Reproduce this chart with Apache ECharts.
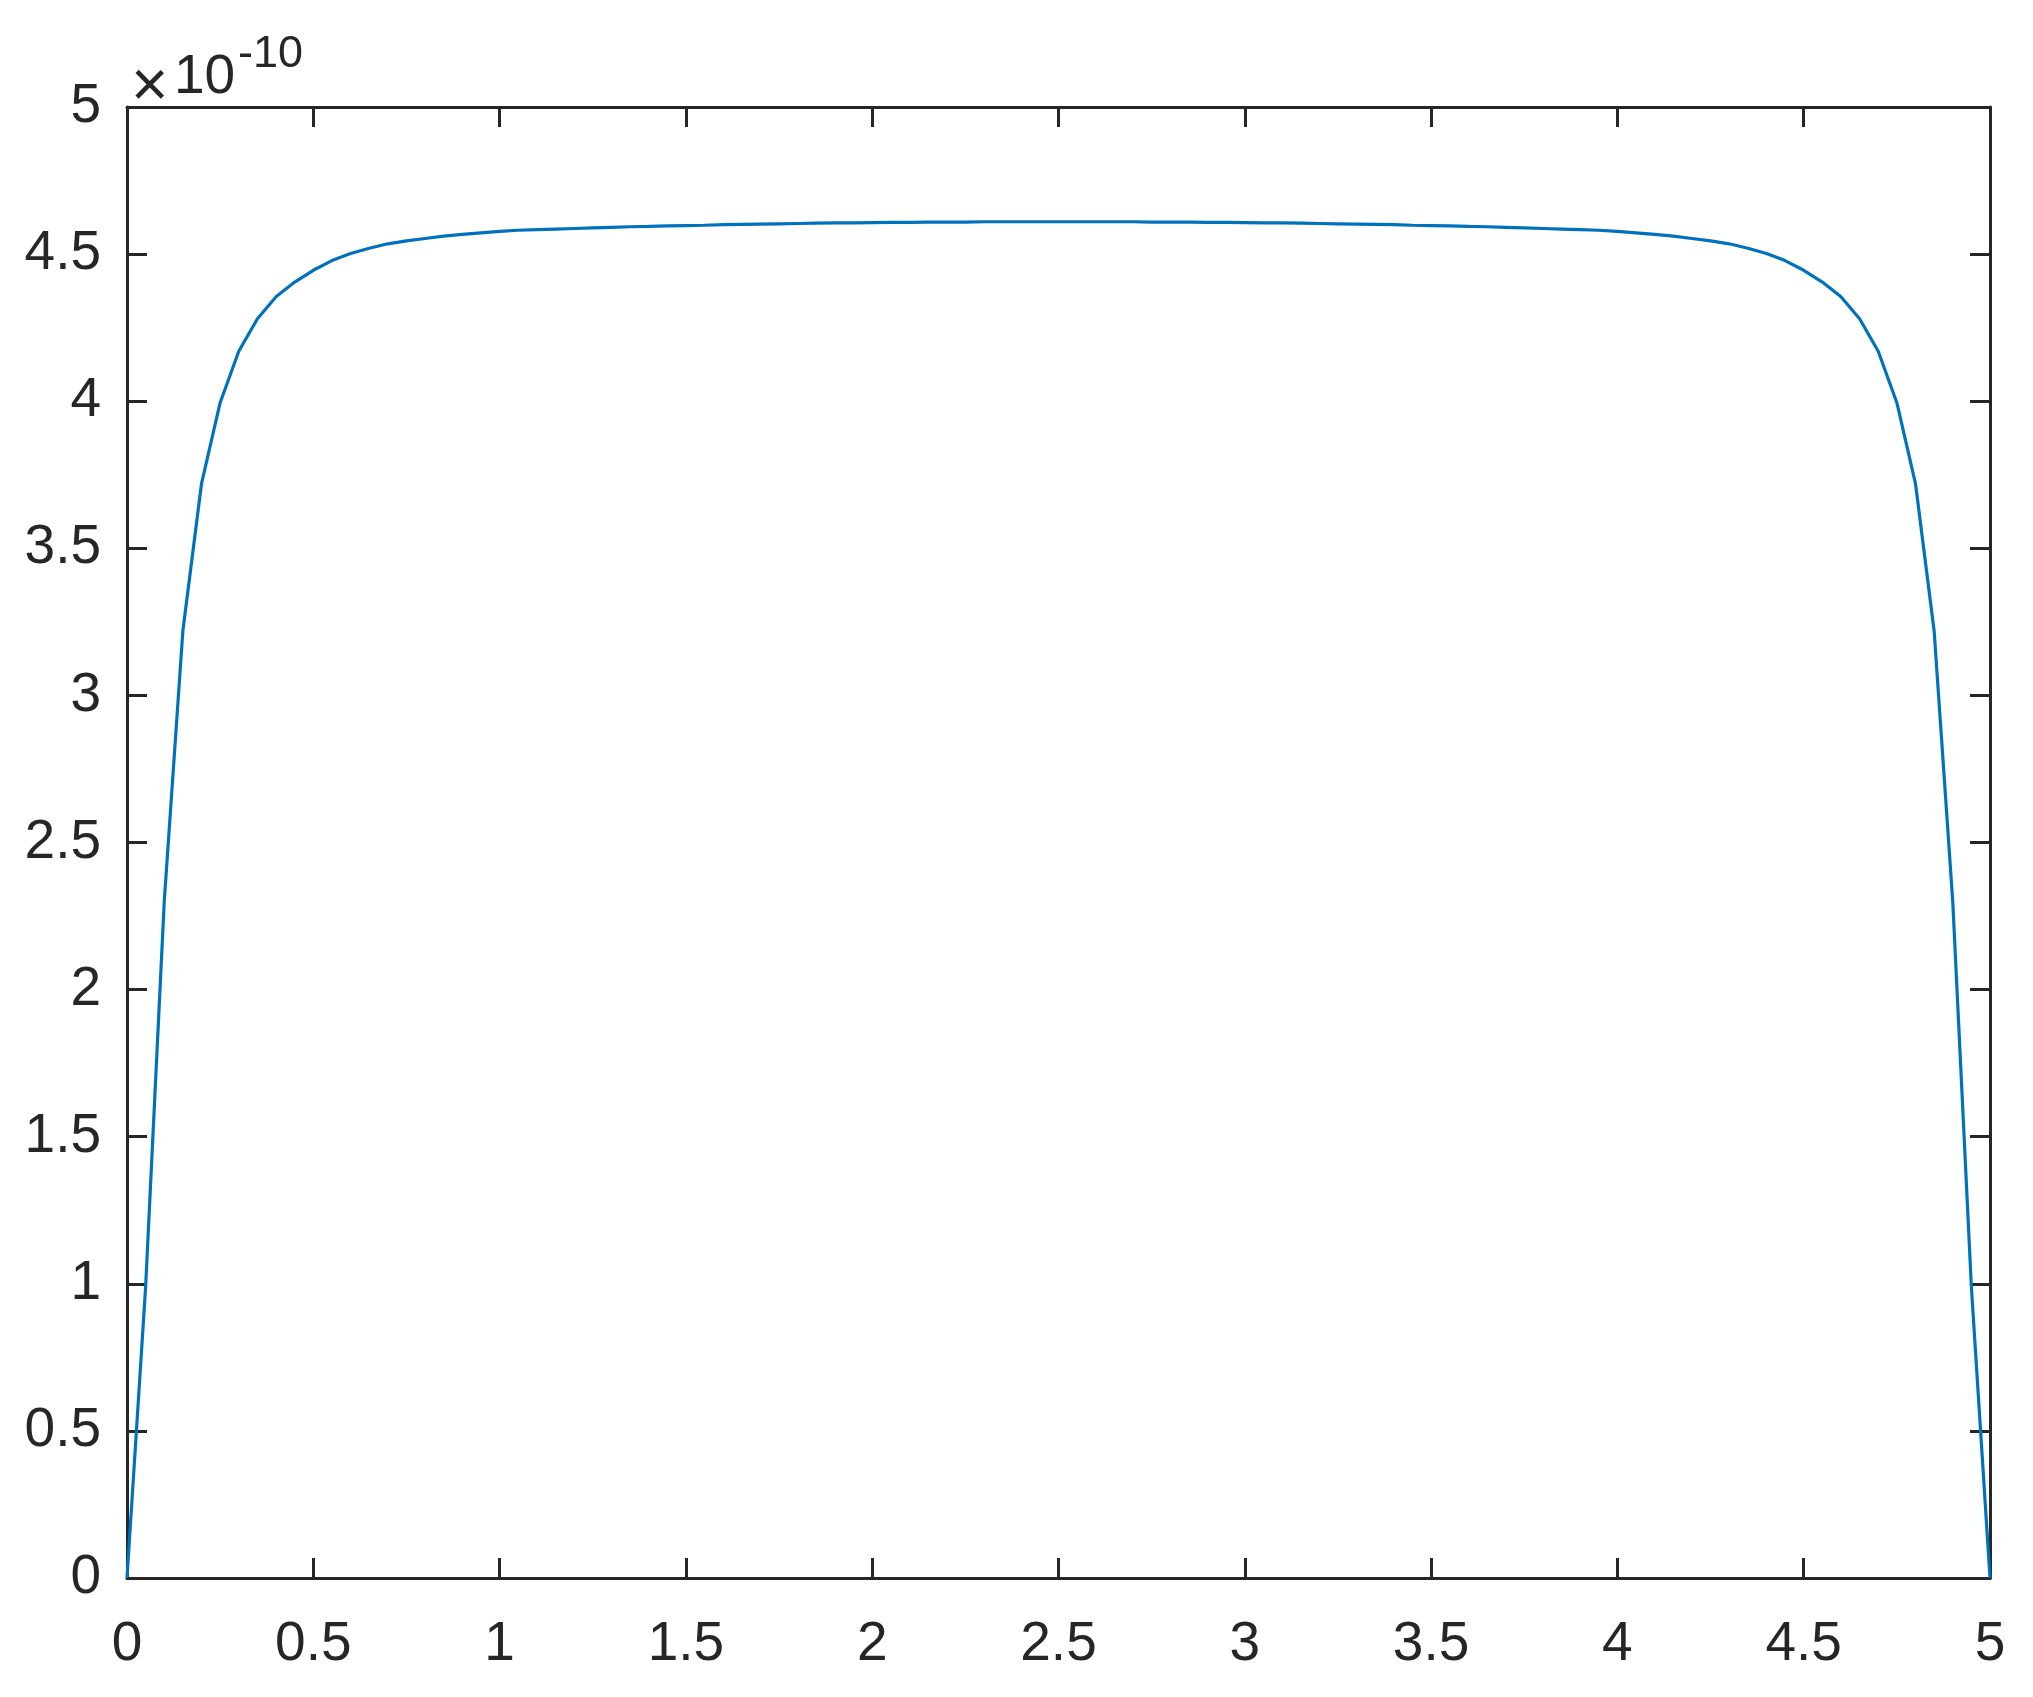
<!DOCTYPE html>
<html>
<head>
<meta charset="utf-8">
<script src="https://cdn.jsdelivr.net/npm/echarts@6/dist/echarts.min.js"></script>
<style>
html,body{margin:0;padding:0;background:#fff;}
#chart{width:2033px;height:1697px;}
</style>
</head>
<body>
<div id="chart"></div>
<script>
// x positions (0 to 5, step 0.05)
var xValues = [
  0.00,0.05,0.10,0.15,0.20,0.25,0.30,0.35,0.40,0.45,
  0.50,0.55,0.60,0.65,0.70,0.75,0.80,0.85,0.90,0.95,
  1.00,1.05,1.10,1.15,1.20,1.25,1.30,1.35,1.40,1.45,
  1.50,1.55,1.60,1.65,1.70,1.75,1.80,1.85,1.90,1.95,
  2.00,2.05,2.10,2.15,2.20,2.25,2.30,2.35,2.40,2.45,
  2.50,
  2.55,2.60,2.65,2.70,2.75,2.80,2.85,2.90,2.95,
  3.00,3.05,3.10,3.15,3.20,3.25,3.30,3.35,3.40,3.45,
  3.50,3.55,3.60,3.65,3.70,3.75,3.80,3.85,3.90,3.95,
  4.00,4.05,4.10,4.15,4.20,4.25,4.30,4.35,4.40,4.45,
  4.50,4.55,4.60,4.65,4.70,4.75,4.80,4.85,4.90,4.95,
  5.00
];
// y values in units of 1e-10
var yValues = [
  0.000,0.990,2.300,3.220,3.720,3.995,4.170,4.280,4.355,4.405,
  4.445,4.478,4.502,4.520,4.535,4.545,4.553,4.561,4.567,4.572,
  4.577,4.581,4.583,4.585,4.587,4.589,4.591,4.593,4.594,4.596,
  4.597,4.598,4.600,4.601,4.602,4.603,4.604,4.605,4.606,4.606,
  4.607,4.608,4.608,4.609,4.609,4.609,4.610,4.610,4.610,4.610,
  4.610,
  4.610,4.610,4.610,4.610,4.609,4.609,4.609,4.608,4.608,
  4.607,4.606,4.606,4.605,4.604,4.603,4.602,4.601,4.600,4.598,
  4.597,4.596,4.594,4.593,4.591,4.589,4.587,4.585,4.583,4.581,
  4.577,4.572,4.567,4.561,4.553,4.545,4.535,4.520,4.502,4.478,
  4.445,4.405,4.355,4.280,4.170,3.995,3.720,3.220,2.300,0.990,
  0.000
];
var xTicks = [0,0.5,1,1.5,2,2.5,3,3.5,4,4.5,5];
var yTicks = [0,0.5,1,1.5,2,2.5,3,3.5,4,4.5,5];
var exponentBase = '×';
var exponentTen = '10';
var exponentPower = '-10';

var ink = '#262626';
var font = 'Liberation Sans, Arial, Helvetica, sans-serif';
var chart = echarts.init(document.getElementById('chart'), null, {renderer:'canvas'});

var pts = xValues.map(function(x,i){ return [x, yValues[i]]; });

function mkX(pos, showLabel){
  return {
    type:'value', position:pos, min:xTicks[0], max:xTicks[xTicks.length-1], interval:0.5,
    axisLine:{show:true, onZero:false, lineStyle:{color:ink, width:3}},
    axisTick:{show:true, inside:true, length:20, lineStyle:{color:ink, width:3}},
    axisLabel:{show:showLabel, margin:39, color:ink, fontSize:55, fontFamily:font,
      showMinLabel:true, showMaxLabel:true},
    splitLine:{show:false}
  };
}
function mkY(pos, showLabel){
  return {
    type:'value', position:pos, min:yTicks[0], max:yTicks[yTicks.length-1], interval:0.5,
    axisLine:{show:true, onZero:false, lineStyle:{color:ink, width:3}},
    axisTick:{show:true, inside:true, length:20, lineStyle:{color:ink, width:3}},
    axisLabel:{show:showLabel, margin:26, color:ink, fontSize:55, fontFamily:font,
      showMinLabel:true, showMaxLabel:true},
    splitLine:{show:false}
  };
}

chart.setOption({
  animation:false,
  backgroundColor:'#ffffff',
  grid:{left:127, right:43, top:107, bottom:119, containLabel:false},
  xAxis:[mkX('bottom', true), mkX('top', false)],
  yAxis:[mkY('left', true), mkY('right', false)],
  series:[{
    type:'line', data:pts, xAxisIndex:0, yAxisIndex:0,
    showSymbol:false, symbol:'none', smooth:false,
    lineStyle:{color:'#0072BD', width:3.2},
    clip:false
  }],
  graphic:[
    {type:'text', left:131, top:56, style:{text:exponentBase, fontSize:64, fontFamily:font, fill:ink}},
    {type:'text', left:174, top:50, style:{text:exponentTen, fontSize:55, fontFamily:font, fill:ink}},
    {type:'text', left:238, top:32, style:{text:exponentPower, fontSize:45, fontFamily:font, fill:ink}}
  ]
});
</script>
</body>
</html>
